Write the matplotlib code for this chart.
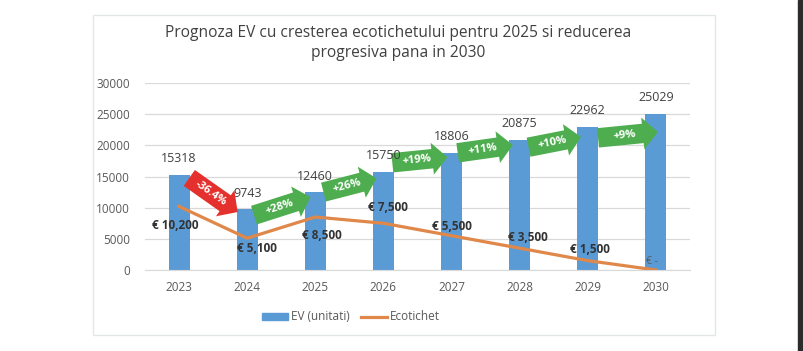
import numpy as np
import matplotlib.pyplot as plt
from matplotlib.patches import FancyArrowPatch, Rectangle
from matplotlib.lines import Line2D
from matplotlib.patches import Patch

plt.rcParams['font.family'] = ['Open Sans', 'DejaVu Sans']

years = ['2023', '2024', '2025', '2026', '2027', '2028', '2029', '2030']
ev_units = [15318, 9743, 12460, 15750, 18806, 20875, 22962, 25029]
ecotichet = [10200, 5100, 8500, 7500, 5500, 3500, 1500, 0]
eco_labels = ['€ 10,200', '€ 5,100', '€ 8,500', '€ 7,500', '€ 5,500',
              '€ 3,500', '€ 1,500', '€ -']
# where the ecotichet labels sit (x offset in categories, y value)
eco_label_pos = [(-0.05, 7100), (0.15, 3500), (0.1, 5600), (0.06, 9950),
                 (0.0, 7050), (0.12, 5150), (0.03, 3350), (-0.06, 1300)]

# growth arrows: start / end points and labels
arrow_from_x = [0.15, 1.10, 2.12, 3.13, 4.09, 5.13, 6.15]
arrow_from_y = [14770, 8800, 12500, 17200, 18800, 19700, 21200]
arrow_to_x = [0.86, 1.93, 2.90, 3.94, 4.90, 5.90, 7.03]
arrow_to_y = [9300, 11700, 14700, 18100, 20050, 21350, 22150]
arrow_labels = ['-36.4%', '+28%', '+26%', '+19%', '+11%', '+10%', '+9%']
arrow_colors = ['#e5312d', '#4ead4f', '#4ead4f', '#4ead4f', '#4ead4f',
                '#4ead4f', '#4ead4f']

fig = plt.figure(figsize=(8.04, 3.51), dpi=100)
fig.patches.append(Rectangle((93 / 804, 16 / 351), 622 / 804, 320 / 351,
                             transform=fig.transFigure, fill=False,
                             edgecolor='#e3e6e6', lw=1))
fig.patches.append(Rectangle((798 / 804, 0), 6 / 804, 1,
                             transform=fig.transFigure, color='#2b2b2b'))

ax = fig.add_axes([145 / 804, 81 / 351, 545 / 804, 187 / 351])
x = np.arange(len(years))

ax.bar(x, ev_units, width=0.31, color='#5b9bd5', zorder=2)
ax.plot(x, ecotichet, color='#e0884a', lw=2.3, zorder=3)

ax.set_xlim(-0.5, len(years) - 0.5)
ax.set_ylim(0, 30000)
ax.set_yticks(np.arange(0, 30001, 5000))
ax.set_xticks(x)
ax.set_xticklabels(years)
ax.tick_params(length=0, colors='#595959', labelsize=8.5)
ax.tick_params(axis='y', pad=11)
ax.tick_params(axis='x', pad=8)
ax.grid(axis='y', color='#d9d9d9', lw=0.9, zorder=0)
for s in ['top', 'right', 'left']:
    ax.spines[s].set_visible(False)
ax.spines['bottom'].set_color('#d9d9d9')

for xi, v in zip(x, ev_units):
    ax.annotate(str(v), (xi, v), xytext=(0, 7), textcoords='offset points',
                ha='center', va='bottom', color='#404040', fontsize=9,
                zorder=6)

for i, (lab, (dx, yv)) in enumerate(zip(eco_labels, eco_label_pos)):
    if lab == '€ -':
        ax.text(x[i] + dx, yv, lab, ha='center', va='center',
                color='#595959', fontsize=7.5)
    else:
        ax.text(x[i] + dx, yv, lab, ha='center', va='center',
                color='#333333', fontsize=8.5, fontweight='bold')

for x0, y0, x1, y1, lab, col in zip(arrow_from_x, arrow_from_y, arrow_to_x,
                                    arrow_to_y, arrow_labels, arrow_colors):
    arr = FancyArrowPatch((x0, y0), (x1, y1),
                          arrowstyle='simple,head_length=1.1,head_width=2.3,tail_width=1.4',
                          mutation_scale=10, color=col, lw=0, zorder=4,
                          shrinkA=0, shrinkB=0)
    ax.add_patch(arr)
    p0 = ax.transData.transform((x0, y0))
    p1 = ax.transData.transform((x1, y1))
    ang = np.degrees(np.arctan2(p1[1] - p0[1], p1[0] - p0[0]))
    mx = x0 + (x1 - x0) * 0.45
    my = y0 + (y1 - y0) * 0.45
    ax.text(mx, my, lab, rotation=ang, rotation_mode='anchor',
            ha='center', va='center', color='white', fontsize=8,
            fontweight='bold', zorder=5)

fig.text(0.495, 1 - 43 / 351,
         'Prognoza EV cu cresterea ecotichetului pentru 2025 si reducerea\nprogresiva pana in 2030',
         ha='center', va='center', fontsize=11.2, color='#404040',
         linespacing=1.3)

handles = [Patch(color='#5b9bd5'), Line2D([], [], color='#e0884a', lw=2.3)]
fig.legend(handles, ['EV (unitati)', 'Ecotichet'], loc='center',
           bbox_to_anchor=(351 / 804, 1 - 317 / 351), ncol=2, frameon=False,
           fontsize=8.5, labelcolor='#595959', handlelength=2.2,
           handleheight=0.6, columnspacing=1.0, handletextpad=0.2)

fig.savefig('out.png', dpi=100)
